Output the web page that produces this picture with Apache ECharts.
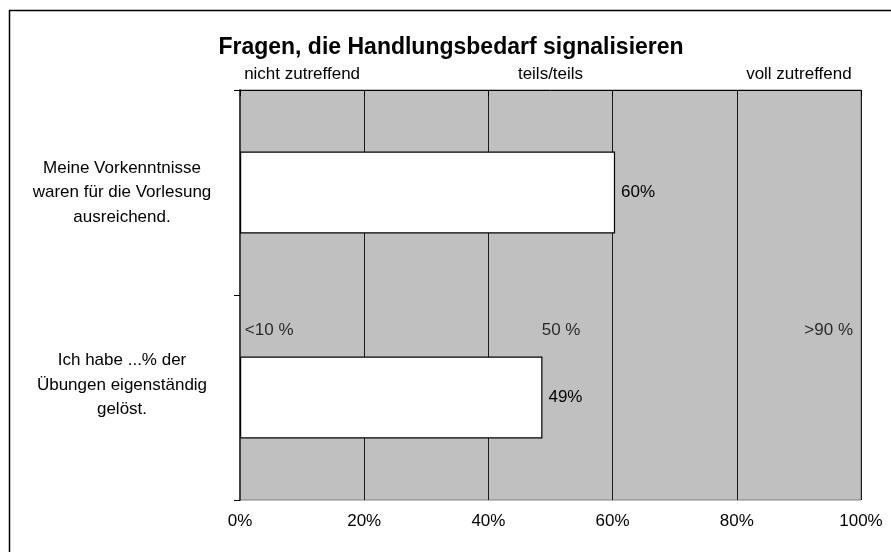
<!DOCTYPE html>
<html>
<head>
<meta charset="utf-8">
<script src="https://cdn.jsdelivr.net/npm/echarts@6/dist/echarts.min.js"></script>
<style>
  html, body { margin: 0; padding: 0; background: #fff; }
  #chart { width: 891px; height: 552px; }
</style>
</head>
<body>
<div id="chart"></div>
<script>
  // questions (top to bottom) and their shares
  var questions = [
    'Meine Vorkenntnisse\nwaren für die Vorlesung\nausreichend.',
    'Ich habe ...% der\nÜbungen eigenständig\ngelöst.'
  ]
  var shares = [60.4, 48.7]
  var valueTicks = [0, 20, 40, 60, 80, 100]
  // scale wording above the plot, one per 20% band
  var scaleTop = ['nicht zutreffend', '', 'teils/teils', '', 'voll zutreffend']
  // scale notes inside the plot
  var noteText = ['<10 %', '50 %', '>90 %']
  var notePos = [4.7, 51.7, 94.8]
  var noteRow = 58.5

  var font = '"Liberation Sans", Arial, sans-serif'
  var chart = echarts.init(document.getElementById('chart'))

  chart.setOption({
    animation: false,
    textStyle: { fontFamily: font },
    title: {
      text: 'Fragen, die Handlungsbedarf signalisieren',
      left: 446,
      textAlign: 'center',
      top: 31,
      textStyle: { fontFamily: font, fontSize: 23, fontWeight: 'bold', color: '#000' }
    },
    graphic: [{
      type: 'rect',
      shape: { x: 9.5, y: 10.5, width: 1000, height: 1000 },
      style: { fill: 'none', stroke: '#000', lineWidth: 1.5 },
      silent: true
    }],
    grid: {
      left: 240,
      right: 30,
      top: 90,
      bottom: 52,
      outerBoundsMode: 'none',
      containLabel: false,
      show: true,
      backgroundColor: '#c0c0c0',
      borderColor: '#808080',
      borderWidth: 1
    },
    xAxis: [
      {
        type: 'value',
        min: valueTicks[0],
        max: valueTicks[valueTicks.length - 1],
        interval: 20,
        axisLine: { show: true, lineStyle: { color: '#000', width: 1 } },
        axisTick: { show: true, length: 6, lineStyle: { color: '#000' } },
        axisLabel: {
          margin: 13,
          fontSize: 17,
          color: '#000',
          fontFamily: font,
          formatter: '{value}%'
        },
        splitLine: { show: true, lineStyle: { color: '#1a1a1a', width: 1 } }
      },
      {
        type: 'category',
        position: 'top',
        data: scaleTop,
        axisLine: { show: false },
        axisTick: { show: false },
        splitLine: { show: false },
        axisLabel: { margin: 7, fontSize: 17, color: '#000', fontFamily: font, interval: 0 }
      }
    ],
    yAxis: [
      {
        type: 'category',
        inverse: true,
        data: questions,
        axisLine: { show: true, lineStyle: { color: '#404040', width: 2 } },
        axisTick: { show: true, length: 6, lineStyle: { color: '#000' } },
        axisLabel: {
          margin: 118,
          align: 'center',
          fontSize: 17,
          lineHeight: 24.5,
          color: '#000',
          fontFamily: font,
          // the second question sits a bit higher in the original
          formatter: function (v, i) { return i === 1 ? v + '\n' : v }
        }
      },
      {
        type: 'value',
        min: 0,
        max: 100,
        inverse: true,
        show: false
      }
    ],
    series: [
      {
        type: 'bar',
        data: shares,
        xAxisIndex: 0,
        yAxisIndex: 0,
        barWidth: 82,
        itemStyle: { color: '#fff', borderColor: '#000', borderWidth: 1.2 },
        label: {
          show: true,
          position: 'right',
          distance: 6,
          fontSize: 17,
          color: '#000',
          fontFamily: font,
          formatter: function (p) { return Math.round(p.value) + '%' }
        }
      },
      {
        type: 'scatter',
        xAxisIndex: 0,
        yAxisIndex: 1,
        symbolSize: 0,
        silent: true,
        data: noteText.map(function (t, i) { return { value: [notePos[i], noteRow], name: t } }),
        label: {
          show: true,
          position: 'inside',
          fontSize: 17,
          color: '#000',
          fontFamily: font,
          formatter: '{b}'
        }
      }
    ]
  })
</script>
</body>
</html>
